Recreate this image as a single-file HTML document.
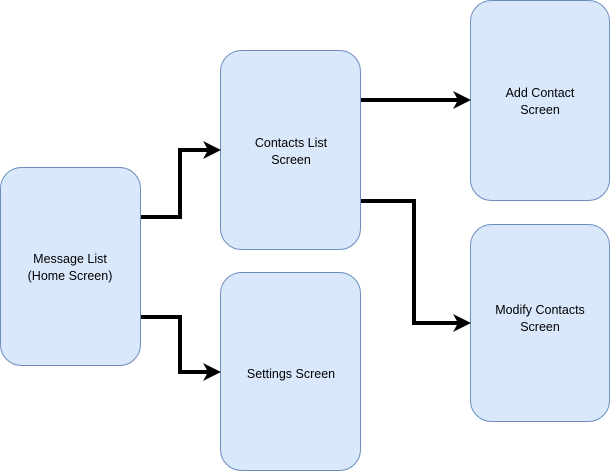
<!DOCTYPE html>
<html><head><style>
body{margin:0;background:#fff;width:611px;height:473px;overflow:hidden}
svg{display:block}
text{font-family:"Liberation Sans",sans-serif;font-size:12.5px;fill:#000}
</style></head><body>
<svg width="611" height="473" viewBox="0 0 611 473">
<g fill="#dae8fc" stroke="#6c8ebf" stroke-width="1">
<rect x="0.5" y="167.5" width="140" height="198" rx="21"/>
<rect x="220.5" y="50.5" width="140" height="199" rx="21"/>
<rect x="220.5" y="272.5" width="140" height="198" rx="21"/>
<rect x="470.5" y="0.5" width="139" height="200" rx="21"/>
<rect x="470.5" y="224.5" width="139" height="197" rx="21"/>
</g>
<g fill="none" stroke="#000" stroke-width="4" stroke-linejoin="miter">
<polyline points="141,217 180,217 180,150 212,150"/>
<polyline points="141,317 180,317 180,372 212,372"/>
<polyline points="361,100 462,100"/>
<polyline points="361,201 414,201 414,323 462,323"/>
</g>
<g fill="#000">
<path d="M221,150 L203,141 L208,150 L203,159 Z"/>
<path d="M221,372 L203,363 L208,372 L203,381 Z"/>
<path d="M471,100 L453,91 L458,100 L453,109 Z"/>
<path d="M471,323 L453,314 L458,323 L453,332 Z"/>
</g>
<g text-anchor="middle">
<text x="70" y="263">Message List</text><text x="70" y="280">(Home Screen)</text>
<text x="291" y="147">Contacts List</text><text x="291" y="164">Screen</text>
<text x="291" y="378">Settings Screen</text>
<text x="540" y="97">Add Contact</text><text x="540" y="114">Screen</text>
<text x="540" y="314">Modify Contacts</text><text x="540" y="331">Screen</text>
</g>
</svg>
</body></html>
